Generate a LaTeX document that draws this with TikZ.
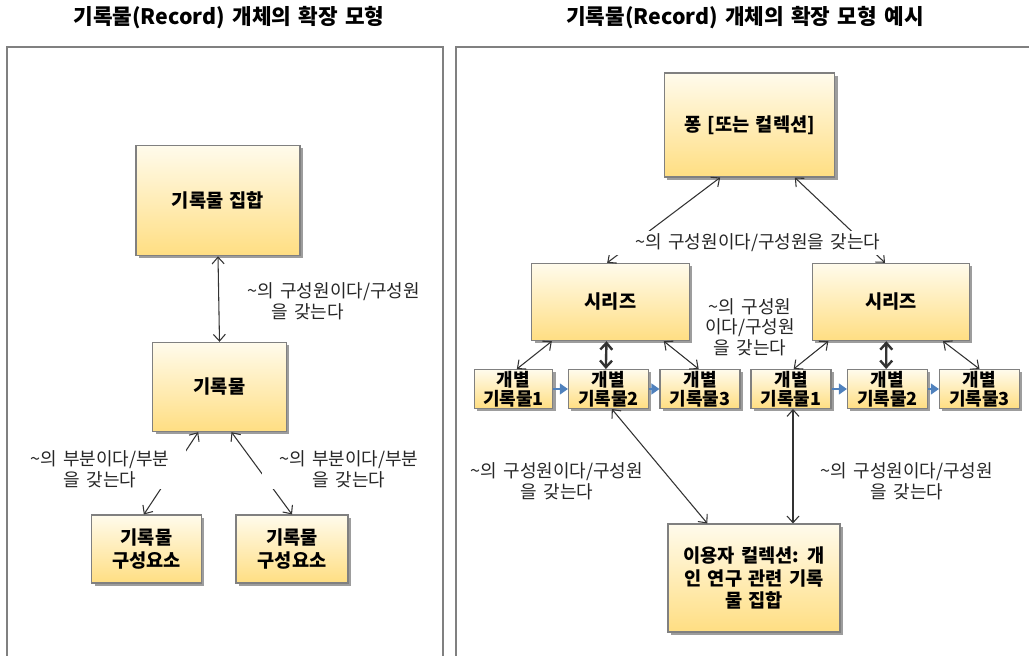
\documentclass[tikz,border=0pt]{standalone}
\usepackage{fontspec}
\setmainfont[WordSpace=1.5]{Noto Sans CJK KR}
\usetikzlibrary{arrows.meta,shadows}

\definecolor{boxtop}{RGB}{255,251,236}
\definecolor{boxbot}{RGB}{255,222,130}
\definecolor{boxline}{RGB}{128,128,128}
\definecolor{nextblue}{RGB}{79,129,189}

\tikzset{every picture/.style={line width=0.75pt}}
\tikzset{
  recbox/.style={draw=boxline, line width=0.8pt, top color=boxtop, bottom color=boxbot,
    drop shadow={shadow xshift=2pt, shadow yshift=-2pt, fill=black!55, opacity=0.7},
    font=\fontsize{14}{17}\selectfont\bfseries, align=center, inner sep=2pt},
  itembox/.style={recbox, minimum width=60pt, minimum height=28pt, inner sep=1pt,
    font=\fontsize{13.5}{14.5}\selectfont\bfseries},
  rellbl/.style={font=\fontsize{13.5}{15.5}\selectfont, text=black!85, align=center, inner sep=1pt},
  relarrow/.style={draw=black!80, line width=0.8pt,
    {Straight Barb[length=5pt,width=9pt]}-{Straight Barb[length=5pt,width=9pt]}},
  boldarrow/.style={relarrow, line width=1.8pt},
  nextarrow/.style={draw=nextblue, line width=1.5pt, -{Triangle[length=6pt,width=8pt]}},
  panel/.style={draw=boxline, line width=1pt},
  paneltitle/.style={font=\fontsize{16}{18}\selectfont\bfseries}
}

\begin{document}
\begin{tikzpicture}[x=0.75pt,y=0.75pt,yscale=-1,xscale=1]
\useasboundingbox (0,0) rectangle (1029,656);

% Panels
\draw [panel] (7,660) -- (7,47) -- (443,47) -- (443,660) ;
\draw [panel] (456,660) -- (456,47) -- (1032,47) ;

% Titles
\node [paneltitle] (titleL) at (229,18) {기록물(Record) 개체의 확장 모형};
\node [paneltitle] (titleR) at (745,18) {기록물(Record) 개체의 확장 모형 예시};

%% Left: model
\node [recbox, minimum width=123pt, minimum height=83pt] (set) at (218,200.5) {기록물 집합};
\node [recbox, minimum width=100pt, minimum height=67pt] (rec) at (219.5,387) {기록물};
\node [recbox, minimum width=82pt, minimum height=51pt] (compA) at (146.5,549) {기록물\\구성요소};
\node [recbox, minimum width=84pt, minimum height=51pt] (compB) at (292,549) {기록물\\구성요소};

\draw [relarrow] (set.south) -- (rec.north) ;
\draw [relarrow] ([xshift=-16pt]rec.south) -- ([xshift=-2pt]compA.north) ;
\draw [relarrow] ([xshift=9pt]rec.south) -- (compB.north) ;

% Text Node
\node [rellbl, align=left, anchor=west] (lblSet) at (246,301) {\textasciitilde 의 구성원이다/구성원\\\hspace*{18pt}을 갖는다};
% Text Node
\node [rellbl, fill=white, minimum width=129pt, minimum height=30pt] (lblPartA) at (100,469) {\textasciitilde 의 부분이다/부분\\을 갖는다};
% Text Node
\node [rellbl, fill=white, minimum width=130pt, minimum height=30pt] (lblPartB) at (349,469) {\textasciitilde 의 부분이다/부분\\을 갖는다};

%% Right: example
\node [recbox, minimum width=128pt, minimum height=78pt] (fonds) at (749.5,125) {퐁 [또는 컬렉션]};
\node [recbox, minimum width=118pt, minimum height=58pt] (serA) at (610.5,302) {시리즈};
\node [recbox, minimum width=118pt, minimum height=58pt] (serB) at (891,302) {시리즈};

\node [itembox, minimum width=59pt] (itemA1) at (513.5,389) {개별\\기록물1};
\node [itembox] (itemA2) at (608.5,389) {개별\\기록물2};
\node [itembox] (itemA3) at (700,389) {개별\\기록물3};
\node [itembox] (itemB1) at (791,389) {개별\\기록물1};
\node [itembox] (itemB2) at (887.5,389) {개별\\기록물2};
\node [itembox] (itemB3) at (979.5,389) {개별\\기록물3};

\node [recbox, minimum width=129pt, minimum height=81pt] (user) at (754,578) {이용자 컬렉션: 개\\인 연구 관련 기록\\물 집합};

\draw [relarrow] ([xshift=-22pt]fonds.south) -- ([xshift=-2.5pt]serA.north) ;
\draw [relarrow] ([xshift=34pt]fonds.south) -- ([xshift=-4.5pt]serB.north) ;

\draw [relarrow] ([xshift=-44pt]serA.south) -- ([xshift=2.5pt]itemA1.north) ;
\draw [boldarrow] ([xshift=-3pt]serA.south) -- ([xshift=-2pt]itemA2.north) ;
\draw [relarrow] ([xshift=40pt]serA.south) -- ([xshift=-1pt]itemA3.north) ;
\draw [relarrow] ([xshift=-47pt]serB.south) -- ([xshift=2pt]itemB1.north) ;
\draw [boldarrow] ([xshift=-3.5pt]serB.south) -- ([xshift=-1pt]itemB2.north) ;
\draw [relarrow] ([xshift=39pt]serB.south) -- (itemB3.north) ;

\draw [nextarrow] (itemA1.east) -- (itemA2.west) ;
\draw [nextarrow] (itemA2.east) -- (itemA3.west) ;
\draw [nextarrow] (itemB1.east) -- (itemB2.west) ;
\draw [nextarrow] (itemB2.east) -- (itemB3.west) ;

\draw [relarrow] ([xshift=2.5pt]itemA2.south) -- ([xshift=-35pt]user.north) ;
\draw [relarrow] ([xshift=1.5pt]itemB1.south) -- ([xshift=1.5pt]itemB1.south |- user.north) ;

% Text Node
\node [rellbl, fill=white, minimum width=225pt, minimum height=18pt] (lblFonds) at (758,243) {\textasciitilde 의 구성원이다/구성원을 갖는다};
% Text Node
\node [rellbl] (lblSer) at (750,327) {\textasciitilde 의 구성원\\이다/구성원\\을 갖는다};
% Text Node
\node [rellbl] (lblUserA) at (557,481) {\textasciitilde 의 구성원이다/구성원\\을 갖는다};
% Text Node
\node [rellbl] (lblUserB) at (907,481) {\textasciitilde 의 구성원이다/구성원\\을 갖는다};

\end{tikzpicture}
\end{document}
